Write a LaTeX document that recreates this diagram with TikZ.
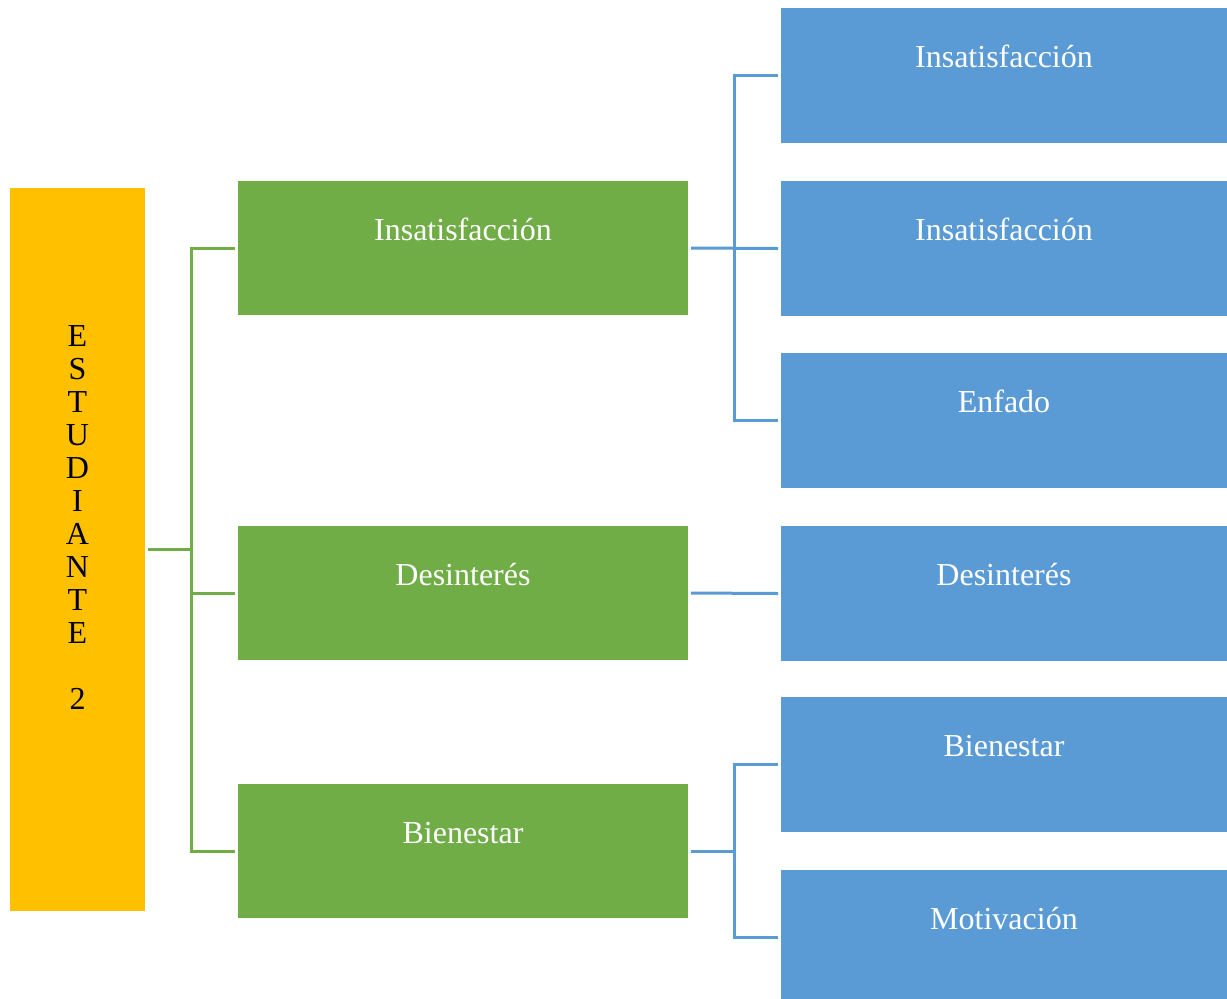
\documentclass[tikz,border=0pt]{standalone}
\usepackage{fontspec}
\setmainfont{Liberation Serif}
\definecolor{yel}{HTML}{FFC000}
\definecolor{grn}{HTML}{70AD47}
\definecolor{blu}{HTML}{5B9BD5}
\begin{document}
\begin{tikzpicture}[x=0.5pt,y=-0.5pt,
  basebox/.style={rectangle, inner sep=0pt, outer sep=0pt, anchor=north west, text=white,
    font=\fontsize{16}{19}\selectfont, text height=29.5pt},
  gbox/.style={basebox, fill=grn, minimum width=225pt, text depth=37.5pt},
  bbox/.style={basebox, fill=blu, minimum width=223pt, text depth=38pt},
  gline/.style={draw=grn, line width=1.5pt},
  bline/.style={draw=blu, line width=1.5pt}]
\useasboundingbox (0,0) rectangle (1227,998);
\node[fill=yel, anchor=north west, minimum width=67.5pt, minimum height=361.5pt, inner sep=0pt, outer sep=0pt] (Y) at (10,188) {};
\node[anchor=north, inner sep=0pt, align=center, font=\fontsize{16}{16.5}\selectfont] (YT) at (77.5,325)
  {E\\S\\T\\U\\D\\I\\A\\N\\T\\E\\[16.5pt]2};
\node[gbox] (G1) at (238,181) {Insatisfacción};
\node[gbox] (G2) at (238,526) {Desinterés};
\node[gbox] (G3) at (238,784) {Bienestar};
\node[bbox] (B1) at (781,8) {Insatisfacción};
\node[bbox] (B2) at (781,181) {Insatisfacción};
\node[bbox] (B3) at (781,353) {Enfado};
\node[bbox] (B4) at (781,526) {Desinterés};
\node[bbox] (B5) at (781,697) {Bienestar};
\node[bbox] (B6) at (781,870) {Motivación};
\coordinate (gx) at (191,0);
\coordinate (bx) at (734,0);
\draw[gline] ([xshift=1.5pt]Y.east) -- (Y.east -| gx);
\draw[gline] ([xshift=-1.5pt]G1.west) -- (G1.west -| gx) -- (G3.west -| gx) -- ([xshift=-1.5pt]G3.west);
\draw[gline] (G2.west -| gx) -- ([xshift=-1.5pt]G2.west);
\draw[bline] ([xshift=1.5pt]G1.east) -- ([xshift=-1.5pt]B2.west);
\draw[bline] ([xshift=-1.5pt]B1.west) -- (B1.west -| bx) -- (B3.west -| bx) -- ([xshift=-1.5pt]B3.west);
\draw[bline] ([xshift=1.5pt]G2.east) -- ([xshift=-1.5pt]B4.west);
\draw[bline] ([xshift=1.5pt]G3.east) -- (G3.east -| bx);
\draw[bline] ([xshift=-1.5pt]B5.west) -- (B5.west -| bx) -- (B6.west -| bx) -- ([xshift=-1.5pt]B6.west);
\end{tikzpicture}
\end{document}
